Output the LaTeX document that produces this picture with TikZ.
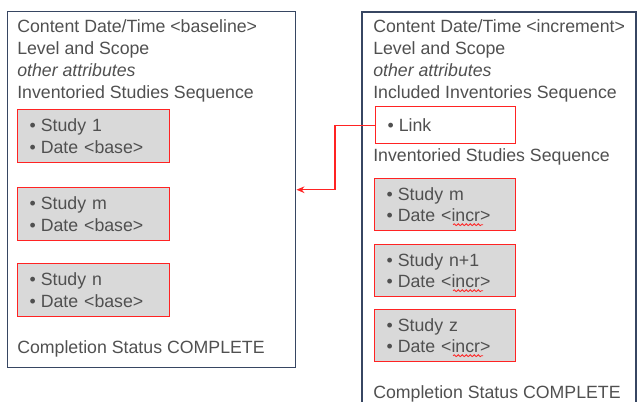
\documentclass[tikz,border=0pt]{standalone}
\usepackage{fontspec}
\setmainfont{Liberation Sans}
\usepackage{xcolor}
\usetikzlibrary{arrows.meta,positioning,calc,decorations.pathmorphing}
\definecolor{panelnavy}{RGB}{55, 70, 98}
\definecolor{studyred}{RGB}{255, 35, 35}
\definecolor{studygray}{RGB}{217, 217, 217}
\definecolor{textgray}{RGB}{80, 80, 80}

\newcommand{\itm}[1]{\makebox[8.3pt][l]{\textbullet}#1}

\tikzset{
  panel/.style={draw=panelnavy,line width=1.1pt},
  attr/.style={text=textgray,anchor=base west,inner sep=0pt,font=\fontsize{13.3}{16}\selectfont},
  study/.style={draw=studyred,fill=studygray,line width=1.1pt,anchor=north west,
    text=textgray,font=\fontsize{13.3}{16}\selectfont,align=left,
    inner xsep=9pt,inner ysep=0pt,text width=#1},
  linkarrow/.style={draw=studyred,line width=0.9pt,-{Stealth[length=6pt,width=5pt]}},
  squiggle/.style={draw=studyred,line width=0.6pt,decorate,
    decoration={snake,amplitude=0.7pt,segment length=3pt}}
}

\begin{document}
\begin{tikzpicture}[x=0.75pt,y=-0.75pt]
    \useasboundingbox (0,0) rectangle (637,402);

    % Baseline inventory
    \node[panel,anchor=north west,minimum width=216pt,minimum height=267pt] (base) at (7,11) {};
    \foreach \txt [count=\i] in {Content Date/Time <baseline>, Level and Scope,
        \textit{other attributes}, Inventoried Studies Sequence}
        \node[attr] (basehead\i) at (17,11+22*\i) {\txt};
    \foreach \name/\lbl/\top in {bs1/1/109, bsm/m/187, bsn/n/263}
        \node[study=96pt,minimum height=39.75pt] (\name) at (17,\top)
            {\itm{Study \lbl}\\ \itm{Date <base>}};
    \node[attr] (basestatus) at (17,354) {Completion Status COMPLETE};

    % Incremental inventory (runs off the bottom)
    \coordinate (incrbl) at (362,402);
    \coordinate (incrtl) at (362,12);
    \coordinate (incrtr) at (636,12);
    \coordinate (incrbr) at (636,402);
    \draw[panel] (incrbl) -- (incrtl) -- (incrtr) -- (incrbr);
    \foreach \txt [count=\i] in {Content Date/Time <increment>, Level and Scope,
        \textit{other attributes}, Included Inventories Sequence}
        \node[attr] (incrhead\i) at (373,11+22*\i) {\txt};
    \node[study=87pt,fill=white,minimum height=27.75pt] (link) at (375,106) {\itm{Link}};
    \node[attr] (incrseq) at (373,162) {Inventoried Studies Sequence};
    \foreach \name/\lbl/\top in {ism/m/178, isn/n+1/244, isz/z/309}{
        \node[study=87.75pt,minimum height=39pt] (\name) at (374,\top)
            {\itm{Study \lbl}\\ \itm{Date <incr>}};
        \draw[squiggle] ($(\name.west)+(79,20)$) -- ++(30,0);
    }
    \node[attr] (incrstatus) at (373,399) {Completion Status COMPLETE};

    % Link back to the baseline
    \draw[linkarrow] (link.west) -- ++(-40,0) |- (base.east);
\end{tikzpicture}
\end{document}
